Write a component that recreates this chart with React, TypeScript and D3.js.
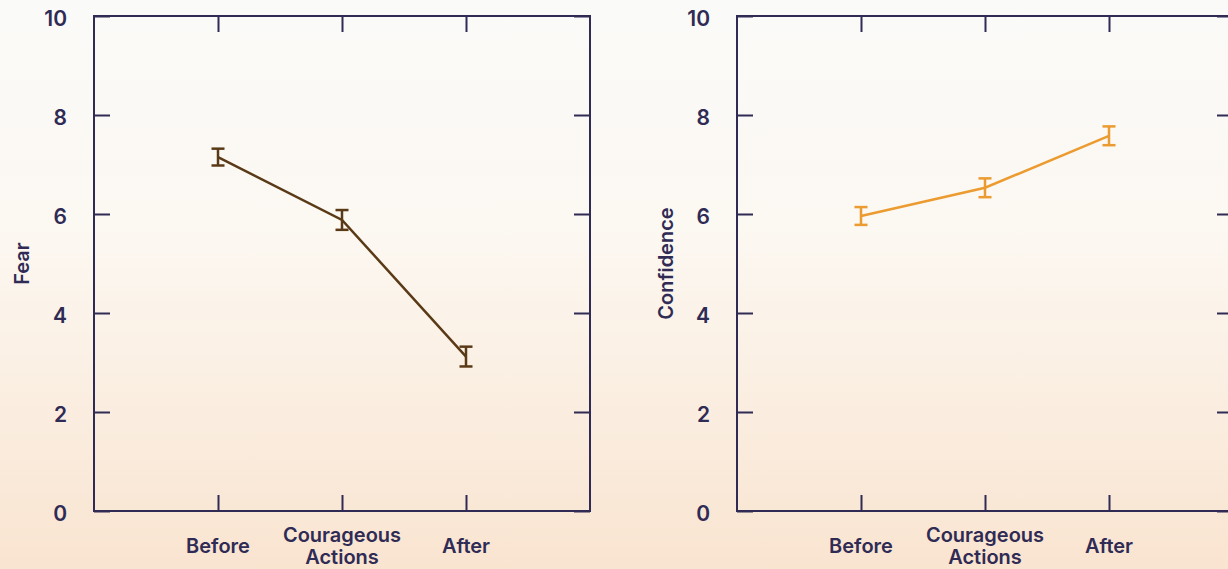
import * as d3 from 'd3';
import React, { useRef, useEffect } from 'react';

const categories = ["Before", "Courageous Actions", "After"];
const fearMean = [7.15, 5.88, 3.12];
const fearErr = [0.17, 0.2, 0.2];
const confMean = [5.96, 6.53, 7.58];
const confErr = [0.18, 0.19, 0.19];
const yTicks = [0, 2, 4, 6, 8, 10];

const W = 1228;
const H = 569;
const INK = "#2f2b55";
const FONT = "Inter, 'Noto Sans', sans-serif";

function App() {
    const ref = useRef<SVGSVGElement>(null);

    useEffect(() => {
        const svg = d3.select(ref.current);
        svg.selectAll("*").remove();

        // background gradient, white on top fading to peach
        const defs = svg.append("defs");
        const grad = defs.append("linearGradient")
            .attr("id", "bg").attr("x1", 0).attr("y1", 0).attr("x2", 0).attr("y2", 1);
        grad.append("stop").attr("offset", "0%").attr("stop-color", "#fafaf8");
        grad.append("stop").attr("offset", "40%").attr("stop-color", "#fcf8f2");
        grad.append("stop").attr("offset", "100%").attr("stop-color", "#f9e4d0");
        svg.append("rect").attr("width", W).attr("height", H).attr("fill", "url(#bg)");

        const panels = [
            { left: 94, label: "Fear", labelX: 29, mean: fearMean, err: fearErr, color: "#5a3a16" },
            { left: 737, label: "Confidence", labelX: 673, mean: confMean, err: confErr, color: "#eb9b2f" },
        ];

        const top = 16, bottom = 511, pw = 496, tick = 16;

        panels.forEach(p => {
            const x = d3.scalePoint<string>().domain(categories).range([p.left, p.left + pw]).padding(1);
            const y = d3.scaleLinear().domain([0, 10]).range([bottom, top]);
            const g = svg.append("g");

            // y axis with labels
            const ya = g.append("g")
                .attr("transform", "translate(" + p.left + ",0)")
                .call(d3.axisLeft(y).tickValues(yTicks).tickSizeInner(-tick).tickSizeOuter(0).tickPadding(27).tickFormat(d3.format("d")));
            ya.select(".domain").remove();
            ya.selectAll("line").attr("stroke", INK).attr("stroke-width", 2);
            ya.selectAll("text")
                .attr("fill", INK).attr("dy", "0.45em")
                .style("font-family", FONT).style("font-size", "21px").style("font-weight", 600);

            // right ticks
            const ra = g.append("g")
                .attr("transform", "translate(" + (p.left + pw) + ",0)")
                .call(d3.axisRight(y).tickValues(yTicks).tickSizeInner(-tick).tickSizeOuter(0).tickFormat(() => ""));
            ra.select(".domain").remove();
            ra.selectAll("line").attr("stroke", INK).attr("stroke-width", 2);

            // bottom and top ticks
            const ba = g.append("g")
                .attr("transform", "translate(0," + bottom + ")")
                .call(d3.axisBottom(x).tickSizeInner(-tick).tickSizeOuter(0).tickFormat(() => ""));
            ba.select(".domain").remove();
            ba.selectAll("line").attr("stroke", INK).attr("stroke-width", 2);

            const ta = g.append("g")
                .attr("transform", "translate(0," + top + ")")
                .call(d3.axisTop(x).tickSizeInner(-tick).tickSizeOuter(0).tickFormat(() => ""));
            ta.select(".domain").remove();
            ta.selectAll("line").attr("stroke", INK).attr("stroke-width", 2);

            // frame
            g.append("rect")
                .attr("x", p.left).attr("y", top)
                .attr("width", pw).attr("height", bottom - top)
                .attr("fill", "none").attr("stroke", INK).attr("stroke-width", 2);

            // category labels, split on spaces into lines
            categories.forEach(c => {
                const words = c.split(" ");
                const t = g.append("text")
                    .attr("text-anchor", "middle")
                    .attr("fill", INK)
                    .style("font-family", FONT).style("font-size", "20px").style("font-weight", 600);
                words.forEach((w, i) => {
                    const base = words.length === 1 ? 553 : 542 + i * 22;
                    t.append("tspan").attr("x", x(c)!).attr("y", base).text(w);
                });
            });

            // axis title
            g.append("text")
                .attr("transform", "translate(" + p.labelX + "," + ((top + bottom) / 2) + ") rotate(-90)")
                .attr("text-anchor", "middle")
                .attr("fill", INK)
                .style("font-family", FONT).style("font-size", "20px").style("font-weight", 600)
                .text(p.label);

            const pts = categories.map((c, i) => ({ c, m: p.mean[i], e: p.err[i] }));

            const line = d3.line<{ c: string; m: number }>()
                .x(d => x(d.c)!)
                .y(d => y(d.m));

            g.append("path")
                .datum(pts)
                .attr("d", line)
                .attr("fill", "none")
                .attr("stroke", p.color)
                .attr("stroke-width", 2.5);

            // error bars
            const eb = g.selectAll(".eb").data(pts).enter().append("g")
                .attr("stroke", p.color).attr("stroke-width", 2.5);
            eb.append("line")
                .attr("x1", d => x(d.c)!).attr("x2", d => x(d.c)!)
                .attr("y1", d => y(d.m + d.e)).attr("y2", d => y(d.m - d.e));
            eb.append("line")
                .attr("x1", d => x(d.c)! - 6.5).attr("x2", d => x(d.c)! + 6.5)
                .attr("y1", d => y(d.m + d.e)).attr("y2", d => y(d.m + d.e));
            eb.append("line")
                .attr("x1", d => x(d.c)! - 6.5).attr("x2", d => x(d.c)! + 6.5)
                .attr("y1", d => y(d.m - d.e)).attr("y2", d => y(d.m - d.e));
        });
    }, []);

    return (
        <div style={{ position: "fixed", left: 0, top: 0, width: W, height: H, overflow: "hidden" }}>
            <svg ref={ref} width={W} height={H} style={{ display: "block" }}></svg>
        </div>
    );
}

export default App;
